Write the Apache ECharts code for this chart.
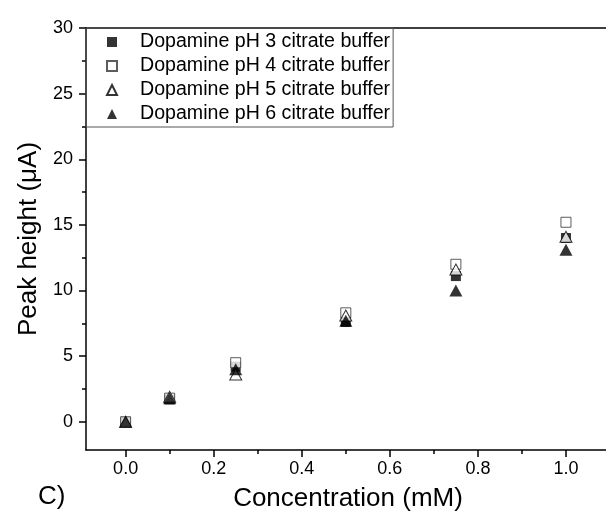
<!DOCTYPE html>
<html>
<head>
<meta charset="utf-8">
<script src="https://cdn.jsdelivr.net/npm/echarts@6/dist/echarts.min.js"></script>
<style>
  html, body { margin: 0; padding: 0; background: #fff; }
  #chart { width: 606px; height: 520px; }
</style>
</head>
<body>
<div id="chart"></div>
<script>
// 数据
const conc = [0, 0.1, 0.25, 0.5, 0.75, 1.0];
const pH3 = [0.0, 1.7, 4.2, 7.6, 11.1, 14.0];
const pH4 = [0.0, 1.8, 4.5, 8.3, 12.0, 15.2];
const pH5 = [0.0, 1.9, 3.6, 8.1, 11.6, 14.1];
const pH6 = [0.0, 1.8, 4.0, 7.7, 10.0, 13.1];
const seriesNames = [
  "Dopamine pH 3 citrate buffer",
  "Dopamine pH 4 citrate buffer",
  "Dopamine pH 5 citrate buffer",
  "Dopamine pH 6 citrate buffer"
];
const xTicks = [0, 0.2, 0.4, 0.6, 0.8, 1.0];
const xMinor = [0.1, 0.3, 0.5, 0.7, 0.9];
const yTicks = [0, 5, 10, 15, 20, 25, 30];
const yMinor = [2.5, 7.5, 12.5, 17.5, 22.5, 27.5];

const FONT = "Liberation Sans, Arial, sans-serif";
const xMin = -0.09, xMax = 1.1, yMin = -2.15, yMax = 30;

function pairs(ys) {
  return conc.map((x, i) => [x, ys[i]]);
}

let myChart = echarts.init(document.getElementById("chart"));

let axisLineStyle = { color: "#000", width: 1.5 };

let option = {
  backgroundColor: "#fff",
  animation: false,
  legend: {
    orient: "vertical",
    left: 86,
    top: 28,
    borderColor: "#555",
    borderWidth: 1,
    padding: [4, 3, 3, 20],
    itemGap: 4,
    itemWidth: 10,
    itemHeight: 10,
    textStyle: {
      fontFamily: FONT,
      fontSize: 19.6,
      color: "#000",
      lineHeight: 20,
      padding: [0, 0, 0, 18]
    },
    data: seriesNames
  },
  grid: {
    left: 86,
    right: -4,
    top: 28,
    bottom: 70,
    outerBoundsMode: "none"
  },
  xAxis: [
    {
      type: "value",
      min: xMin,
      max: xMax,
      position: "bottom",
      name: "Concentration (mM)",
      nameLocation: "middle",
      nameGap: 36,
      nameTextStyle: { fontFamily: FONT, fontSize: 26, color: "#000" },
      axisLine: { show: true, onZero: false, lineStyle: axisLineStyle },
      axisTick: { show: true, length: 7, customValues: xTicks, lineStyle: axisLineStyle },
      axisLabel: {
        fontFamily: FONT, fontSize: 18, color: "#000", margin: 10,
        customValues: xTicks,
        formatter: (v) => v.toFixed(1)
      },
      splitLine: { show: false }
    },
    {
      // 小刻度
      type: "value",
      min: xMin,
      max: xMax,
      position: "bottom",
      axisLine: { show: false, onZero: false },
      axisTick: { show: true, length: 4, customValues: xMinor, lineStyle: axisLineStyle },
      axisLabel: { show: false },
      splitLine: { show: false }
    },
    {
      // 顶部边框
      type: "value",
      min: xMin,
      max: xMax,
      position: "top",
      axisLine: { show: true, onZero: false, lineStyle: axisLineStyle },
      axisTick: { show: false },
      axisLabel: { show: false },
      splitLine: { show: false }
    }
  ],
  yAxis: [
    {
      type: "value",
      min: yMin,
      max: yMax,
      position: "left",
      name: "Peak height (\u03bcA)",
      nameLocation: "middle",
      nameGap: 42,
      nameTextStyle: { fontFamily: FONT, fontSize: 26, color: "#000" },
      axisLine: { show: true, onZero: false, lineStyle: axisLineStyle },
      axisTick: { show: true, length: 7, customValues: yTicks, lineStyle: axisLineStyle },
      axisLabel: {
        fontFamily: FONT, fontSize: 18, color: "#000", margin: 13,
        customValues: yTicks
      },
      splitLine: { show: false }
    },
    {
      type: "value",
      min: yMin,
      max: yMax,
      position: "left",
      axisLine: { show: false, onZero: false },
      axisTick: { show: true, length: 4, customValues: yMinor, lineStyle: axisLineStyle },
      axisLabel: { show: false },
      splitLine: { show: false }
    }
  ],
  graphic: [
    {
      type: "text",
      left: 38,
      top: 484,
      style: { text: "C)", fontFamily: FONT, fontSize: 26, fill: "#000" }
    }
  ],
  series: [
    {
      name: seriesNames[0],
      type: "scatter",
      symbol: "rect",
      symbolSize: 10,
      itemStyle: { color: "#000" },
      data: pairs(pH3)
    },
    {
      name: seriesNames[1],
      type: "scatter",
      symbol: "rect",
      symbolSize: 10,
      itemStyle: { color: "#fff", borderColor: "#333", borderWidth: 1 },
      data: pairs(pH4)
    },
    {
      name: seriesNames[2],
      type: "scatter",
      symbol: "triangle",
      symbolSize: [12, 11],
      itemStyle: { color: "#fff", borderColor: "#000", borderWidth: 1 },
      data: pairs(pH5)
    },
    {
      name: seriesNames[3],
      type: "scatter",
      symbol: "triangle",
      symbolSize: [13, 12],
      itemStyle: { color: "#000" },
      data: pairs(pH6)
    }
  ]
};

myChart.setOption(option);
</script>
</body>
</html>
